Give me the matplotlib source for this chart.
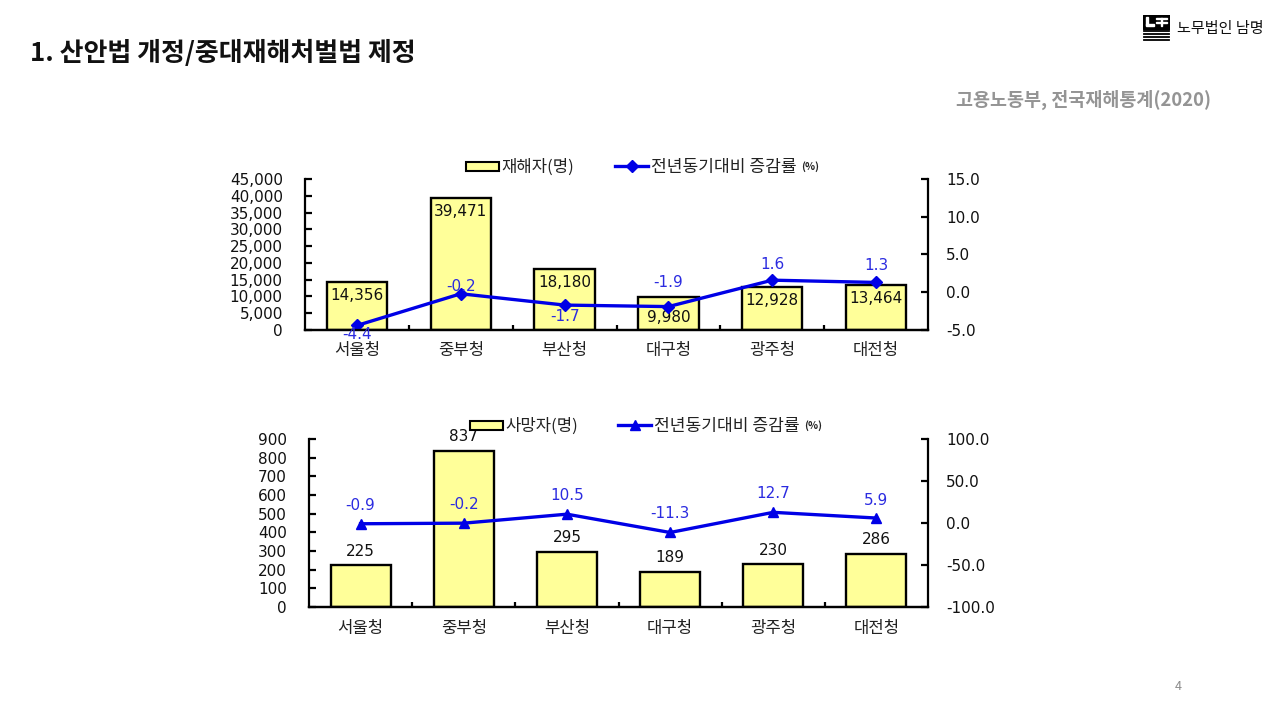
import matplotlib
matplotlib.use('Agg')
import matplotlib.pyplot as plt
from matplotlib.patches import Rectangle
from matplotlib.lines import Line2D

plt.rcParams['font.family'] = ['Noto Sans CJK KR', 'DejaVu Sans']

# data
regions = ['서울청', '중부청', '부산청', '대구청', '광주청', '대전청']
injured = [14356, 39471, 18180, 9980, 12928, 13464]
injured_rate = [-4.4, -0.2, -1.7, -1.9, 1.6, 1.3]
deaths = [225, 837, 295, 189, 230, 286]
deaths_rate = [-0.9, -0.2, 10.5, -11.3, 12.7, 5.9]

left_ticks_top = [0, 5000, 10000, 15000, 20000, 25000, 30000, 35000, 40000, 45000]
right_ticks_top = [-5, 0, 5, 10, 15]
left_ticks_bottom = [0, 100, 200, 300, 400, 500, 600, 700, 800, 900]
right_ticks_bottom = [-100, -50, 0, 50, 100]

# label offsets in pixels
injured_bar_off = [-14, -14, -14, -21, -14, -14]
injured_line_off = [-9, 7, -11, 24, 16, 17]
deaths_bar_off = [14, 14, 14, 14, 14, 14]
deaths_line_off = [18, 19, 19, 19, 19, 18]

W, H = 1280, 720
BAR = '#FFFF99'
BLUE = '#0000E6'
LABEL_BLUE = '#2B2BE0'
NUM = 'DejaVu Sans'
NUM_SIZE = 11


def box(l, t, r, b):
    return [l / W, 1 - b / H, (r - l) / W, (b - t) / H]


def draw_panel(fig, rect, bars, rate, lticks, rticks, bar_off, line_off, marker, msize, lfmt, cat_pad):
    ax = fig.add_axes(box(*rect))
    ax2 = ax.twinx()
    x = list(range(len(regions)))
    ax.bar(x, bars, width=0.58, color=BAR, edgecolor='black', linewidth=1.7)
    ax.set_xlim(-0.5, 5.5)
    ax.set_ylim(lticks[0], lticks[-1])
    ax.set_yticks(lticks)
    ax.set_yticklabels([lfmt.format(v) for v in lticks], family=NUM, fontsize=NUM_SIZE, color='#111111')
    ax.set_xticks([0.5, 1.5, 2.5, 3.5, 4.5])
    ax.set_xticklabels([])
    ax.set_xticks(x, minor=True)
    ax.set_xticklabels(regions, minor=True, fontsize=12, color='#222222')
    ax.tick_params(axis='x', which='minor', length=0, pad=cat_pad)
    ax.tick_params(axis='x', which='major', direction='in', length=3.5, width=1.6)
    ax.tick_params(axis='y', direction='in', length=5, width=1.6, pad=16)

    ax2.plot(x, rate, color=BLUE, linewidth=2.4, marker=marker, markersize=msize)
    ax2.set_ylim(rticks[0], rticks[-1])
    ax2.set_yticks(rticks)
    ax2.set_yticklabels(['{:.1f}'.format(v) for v in rticks], family=NUM, fontsize=NUM_SIZE, color='#111111')
    ax2.tick_params(axis='y', direction='in', length=5, width=1.6, pad=13)

    for a in (ax, ax2):
        a.spines['top'].set_visible(False)
        for s in ('left', 'right', 'bottom'):
            a.spines[s].set_linewidth(1.6)
    ax.spines['right'].set_visible(False)
    ax2.spines['left'].set_visible(False)

    for i in x:
        ax.annotate(lfmt.format(bars[i]), (i, bars[i]), xytext=(0, bar_off[i]), textcoords='offset pixels',
                    ha='center', va='center', family=NUM, fontsize=NUM_SIZE, color='#111111')
        ax2.annotate('{:.1f}'.format(rate[i]), (i, rate[i]), xytext=(0, line_off[i]), textcoords='offset pixels',
                     ha='center', va='center', family=NUM, fontsize=NUM_SIZE, color=LABEL_BLUE)
    return ax


def draw_legend(fig, x0, y, bar_label, x1, marker, msize):
    # bar key, line key and the small (%) are placed by hand like the slide
    fig.add_artist(Rectangle((x0 / W, 1 - (y + 4.5) / H), 33 / W, 9 / H, transform=fig.transFigure,
                             facecolor=BAR, edgecolor='black', linewidth=1.5))
    fig.text((x0 + 35) / W, 1 - (y + 1) / H, bar_label, fontsize=12, color='#222222', va='center')
    fig.add_artist(Line2D([x1 / W, (x1 + 33) / W], [1 - y / H, 1 - y / H], transform=fig.transFigure,
                          color=BLUE, linewidth=2.4))
    fig.add_artist(Line2D([(x1 + 16.5) / W], [1 - y / H], transform=fig.transFigure,
                          color=BLUE, marker=marker, markersize=msize))
    fig.text((x1 + 36) / W, 1 - (y + 1) / H, '전년동기대비 증감률', fontsize=12.3, color='#222222', va='center')
    fig.text((x1 + 186) / W, 1 - (y + 1) / H, '(%)', fontsize=7.5, color='#222222', va='center', fontweight='bold')


fig = plt.figure(figsize=(12.8, 7.2), dpi=100, facecolor='white')

draw_panel(fig, (305, 179, 928, 330), injured, injured_rate, left_ticks_top, right_ticks_top,
           injured_bar_off, injured_line_off, 'D', 6, '{:,}', 8.5)
draw_panel(fig, (309, 439, 928, 607), deaths, deaths_rate, left_ticks_bottom, right_ticks_bottom,
           deaths_bar_off, deaths_line_off, '^', 7.5, '{:d}', 9)

draw_legend(fig, 466, 166, '재해자(명)', 615, 'D', 6)
draw_legend(fig, 470, 425, '사망자(명)', 618, '^', 7.5)

# slide text
fig.text(30 / W, 1 - 53 / H, '1. 산안법 개정/중대재해처벌법 제정', fontsize=18.7, fontweight='bold',
         color='#111111', va='center')
fig.text(1211 / W, 1 - 100 / H, '고용노동부, 전국재해통계(2020)', fontsize=13.3, fontweight='bold',
         color='#949494', va='center', ha='right')
fig.text(1178.5 / W, 1 - 687 / H, '4', fontsize=9, color='#8C8C8C', va='center', ha='center')
fig.text(1177 / W, 1 - 28 / H, '노무법인 남명', fontsize=10.9, color='#111111', va='center')

# logo
logo = fig.add_axes(box(1143, 15, 1170, 42))
logo.set_xlim(0, 27)
logo.set_ylim(27, 0)
logo.axis('off')
logo.add_patch(Rectangle((0, 0), 27, 14, color='black'))
logo.add_patch(Rectangle((3, 2), 1.5, 8, color='white'))
logo.add_patch(Rectangle((3, 9), 8, 1.5, color='white'))
logo.add_patch(Rectangle((13, 3), 11, 1.2, color='white'))
logo.add_patch(Rectangle((13, 7), 11, 1.2, color='white'))
logo.add_patch(Rectangle((18, 3), 1.2, 8, color='white'))
for yy in (16, 19, 22, 25):
    logo.plot([1, 26], [yy, yy], color='black', linewidth=1.3)

fig.savefig('out.png', dpi=100)
